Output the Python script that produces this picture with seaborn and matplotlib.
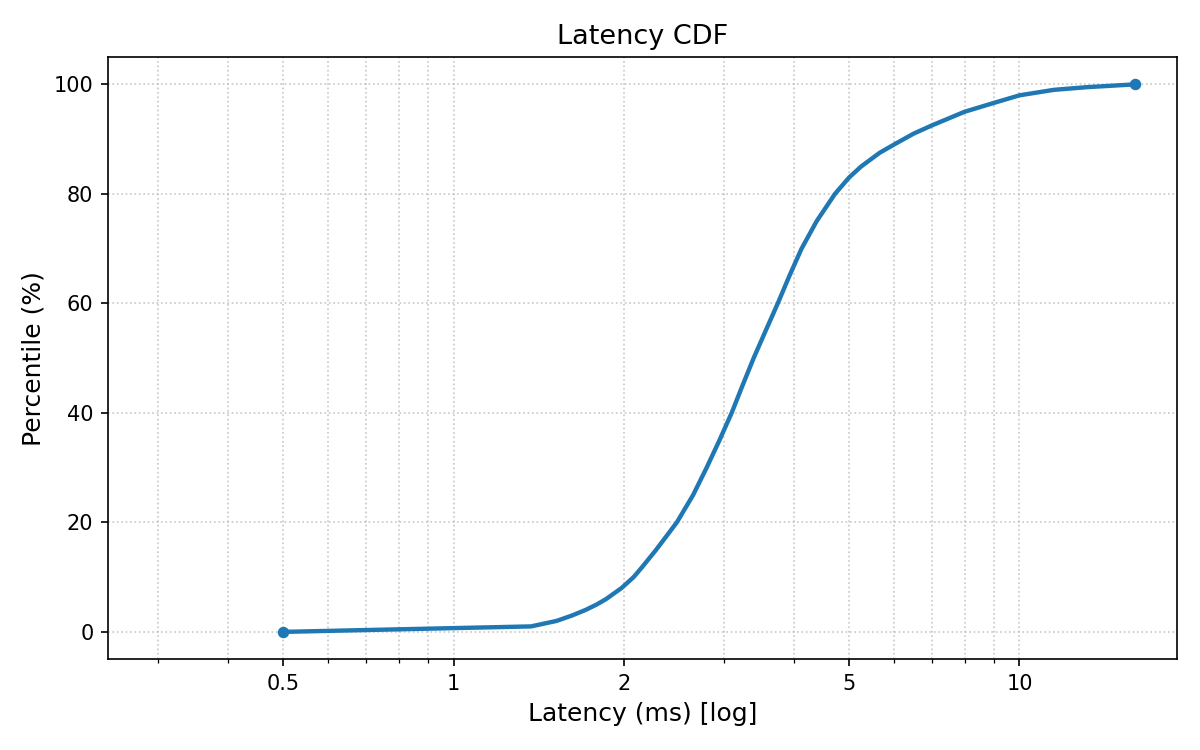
import numpy as np
import pandas as pd
import matplotlib
matplotlib.use('Agg')
import matplotlib.pyplot as plt
import seaborn as sns
from matplotlib.ticker import FixedLocator, FixedFormatter, NullFormatter

# percentile levels and latency
percentile = [0, 1, 2, 3, 4, 5, 6, 8, 10, 12, 15, 20, 25, 30, 35, 40, 45,
              50, 55, 60, 65, 70, 75, 80, 83, 85, 87.5, 89, 91, 92.5, 95,
              96.6, 98, 99, 99.5, 100]
latency_ms = [0.5, 1.37, 1.52, 1.62, 1.71, 1.79, 1.86, 1.98, 2.08, 2.16,
              2.28, 2.48, 2.65, 2.80, 2.95, 3.10, 3.24, 3.39, 3.56, 3.74,
              3.92, 4.12, 4.38, 4.72, 5.0, 5.25, 5.66, 6.0, 6.5, 7.0, 8.0,
              9.0, 10.0, 11.5, 13.2, 16.0]

xtick_vals = [0.5, 1, 2, 5, 10]
xtick_labels = ['0.5', '1', '2', '5', '10']

df = pd.DataFrame({'Latency': latency_ms, 'Percentile': percentile})

fig, ax = plt.subplots(figsize=(8, 5), dpi=150)

sns.lineplot(data=df, x='Latency', y='Percentile', ax=ax, color='#1f77b4',
             linewidth=2.1, marker='o', markersize=5.5, markevery=[0, len(df) - 1],
             markeredgewidth=0, sort=False)

ax.set_xscale('log')
ax.set_xlim(0.245, 19)
ax.xaxis.set_major_locator(FixedLocator(xtick_vals))
ax.xaxis.set_major_formatter(FixedFormatter(xtick_labels))
ax.xaxis.set_minor_formatter(NullFormatter())

ax.grid(True, which='both', linestyle=':', color='#b0b0b0', alpha=0.7, linewidth=0.8)

ax.set_title('Latency CDF', fontsize=13)
ax.set_xlabel('Latency (ms) [log]', fontsize=12)
ax.set_ylabel('Percentile (%)', fontsize=12)
ax.tick_params(labelsize=10)

fig.subplots_adjust(left=0.09, right=0.981, top=0.924, bottom=0.121)
fig.savefig('out.png', dpi=150)
